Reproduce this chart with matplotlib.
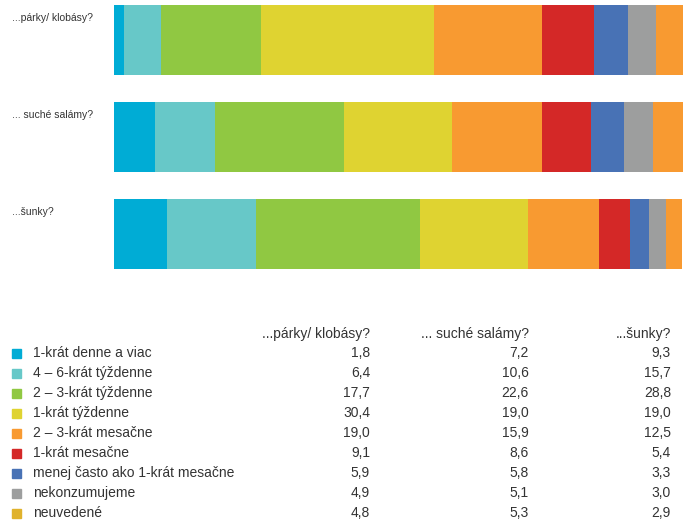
import numpy as np
import matplotlib
matplotlib.use("Agg")
import matplotlib.pyplot as plt
from matplotlib.patches import Rectangle

plt.rcParams['font.family'] = ['Liberation Sans Narrow', 'Liberation Sans', 'DejaVu Sans']

products = ["...párky/ klobásy?", "... suché salámy?", "...šunky?"]
categories = [
    "1-krát denne a viac",
    "4 – 6-krát týždenne",
    "2 – 3-krát týždenne",
    "1-krát týždenne",
    "2 – 3-krát mesačne",
    "1-krát mesačne",
    "menej často ako 1-krát mesačne",
    "nekonzumujeme",
    "neuvedené",
]
parky = [1.8, 6.4, 17.7, 30.4, 19.0, 9.1, 5.9, 4.9, 4.8]
salamy = [7.2, 10.6, 22.6, 19.0, 15.9, 8.6, 5.8, 5.1, 5.3]
sunky = [9.3, 15.7, 28.8, 19.0, 12.5, 5.4, 3.3, 3.0, 2.9]

bar_colors = ["#00acd5", "#67c8c8", "#90c842", "#dfd331", "#f89a31",
              "#d42827", "#4872b5", "#9d9e9e", "#f89a31"]
legend_colors = bar_colors[:-1] + ["#e0b22c"]

W, H = 686, 522
fig = plt.figure(figsize=(W / 100, H / 100), dpi=100)


def fx(px):
    return px / W


def fy(py):
    return 1 - py / H


# stacked bars
ax = fig.add_axes([fx(114), fy(280), fx(683 - 114), 280 / H])
values = np.array([parky, salamy, sunky])
left = np.zeros(len(products))
for j in range(len(categories)):
    ax.barh(np.arange(len(products)), values[:, j], left=left, height=0.72,
            color=bar_colors[j], edgecolor="none")
    left += values[:, j]
ax.set_xlim(0, 100)
ax.set_ylim(2 + 46 / 97.5, -40 / 97.5)
ax.axis("off")

for i, name in enumerate(products):
    fig.text(fx(12), fy(18 + i * 97), name, fontsize=7.5, ha="left", va="center",
             color="#333333")

# table below
txt = dict(fontsize=10, color="#333333", va="baseline")
col_right = [370, 529, 671]
for c in range(3):
    fig.text(fx(col_right[c]), fy(338), products[c], ha="right", **txt)

for k, cat in enumerate(categories):
    y = 353 + k * 20
    fig.patches.append(Rectangle((fx(12), fy(y + 4.5)), fx(9), 9 / H,
                                 transform=fig.transFigure, color=legend_colors[k]))
    fig.text(fx(33), fy(y + 4), cat, ha="left", **txt)
    for c, series in enumerate([parky, salamy, sunky]):
        fig.text(fx(col_right[c]), fy(y + 4), f"{series[k]:.1f}".replace(".", ","),
                 ha="right", **txt)

fig.savefig("out.png", dpi=100)
